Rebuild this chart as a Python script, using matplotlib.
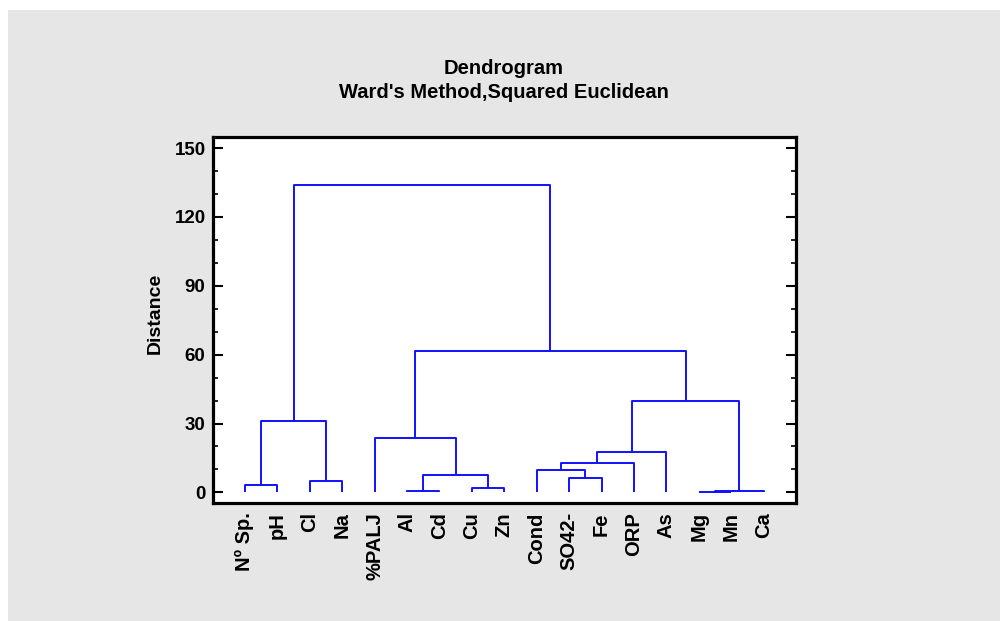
import matplotlib
matplotlib.use('Agg')
from matplotlib import pyplot as plt
from matplotlib.patches import Rectangle
from matplotlib.ticker import MultipleLocator

plt.rcParams['font.family'] = ['Liberation Sans', 'DejaVu Sans']
plt.rcParams['font.weight'] = 'bold'

labels = ['Nº Sp.', 'pH', 'Cl', 'Na', '%PALJ', 'Al', 'Cd', 'Cu', 'Zn',
          'Cond', 'SO42-', 'Fe', 'ORP', 'As', 'Mg', 'Mn', 'Ca']

# merges in leaf order: (left node, right node, distance); new nodes numbered from 17
merge_left = [14, 5, 17, 7, 0, 2, 10, 18, 9, 25, 26, 4, 21, 27, 28, 29]
merge_right = [15, 6, 16, 8, 1, 3, 11, 20, 23, 12, 13, 24, 22, 19, 30, 31]
merge_dist = [0.1, 0.7, 0.7, 2.0, 3.4, 4.9, 6.1, 7.4, 9.6, 12.9, 17.7, 23.7,
              31.1, 39.8, 61.6, 133.9]

fig = plt.figure(figsize=(10, 6.21), dpi=100)
fig.patch.set_facecolor('white')
fig.patches.append(Rectangle((8 / 1000, 0), 1, 1 - 10 / 621, transform=fig.transFigure,
                             facecolor='#e6e6e6', edgecolor='none', zorder=-10))

ax = fig.add_axes([0.2125, 0.1908, 0.5835, 0.5886])
ax.set_facecolor('white')

xpos = {i: i + 1 for i in range(len(labels))}
ypos = {i: 0.0 for i in range(len(labels))}
node = len(labels)
for a, b, d in zip(merge_left, merge_right, merge_dist):
    ax.plot([xpos[a], xpos[a], xpos[b], xpos[b]], [ypos[a], d, d, ypos[b]],
            color='#1010ff', lw=1.4, solid_capstyle='butt')
    xpos[node] = (xpos[a] + xpos[b]) / 2
    ypos[node] = d
    node += 1

ax.set_xlim(0, len(labels) + 1)
ax.set_ylim(-4.4, 154.8)
ax.set_xticks(range(1, len(labels) + 1))
ax.set_xticklabels(labels, rotation=90, fontsize=14.5, fontweight='bold', va='top')
ax.tick_params(axis='x', length=0, pad=7)
ax.yaxis.set_major_locator(MultipleLocator(30))
ax.yaxis.set_minor_locator(MultipleLocator(10))
ax.tick_params(axis='y', which='major', direction='in', length=7, width=1.5,
               labelsize=13.5, right=True, pad=5)
ax.tick_params(axis='y', which='minor', direction='in', length=3.5, width=1.2, right=True)
for lab in ax.get_yticklabels():
    lab.set_fontweight('bold')
for sp in ax.spines.values():
    sp.set_linewidth(2.3)

fig.text(155 / 1000, 1 - 313 / 621, 'Distance', rotation=90, ha='center', va='center',
         fontsize=14, fontweight='bold')
fig.text(504 / 1000, 1 - 68 / 621, 'Dendrogram', ha='center', va='center',
         fontsize=14.5, fontweight='bold')
fig.text(504 / 1000, 1 - 93 / 621, "Ward's Method,Squared Euclidean", ha='center', va='center',
         fontsize=14.5, fontweight='bold')

fig.savefig('out.png', dpi=100)
